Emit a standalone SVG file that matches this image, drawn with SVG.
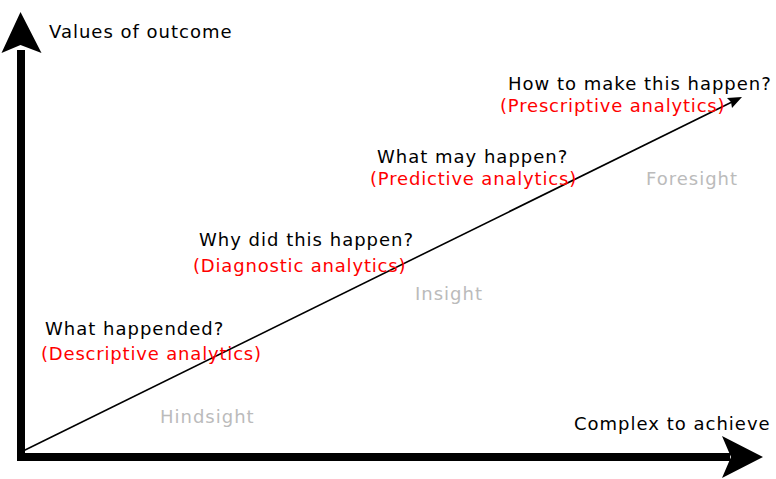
<svg xmlns="http://www.w3.org/2000/svg" width="776" height="479" viewBox="0 0 776 479">
<style>
text{font-family:"DejaVu Sans",sans-serif;font-size:18px;letter-spacing:1px}
.q{fill:#000}
.a{fill:#ff0000;letter-spacing:0.82px}
.s{fill:#bbbbbb}
.axis{stroke:#000;stroke-width:8;fill:none}
.diag{stroke:#000;stroke-width:1.6;fill:none}
</style>
<rect width="776" height="479" fill="#fff"/>
<g id="connectors">
<path class="axis" d="M21,50 V457 H730"/>
<path d="M20.5,12 L41.5,53 L20.5,45 L1.5,53 Z" fill="#000"/>
<path d="M763,457 L722,478 L731,457 L722,436 Z" fill="#000"/>
<line class="diag" x1="21" y1="452" x2="734" y2="101"/>
<path d="M742,97 L727,98 L731,102 L732,108 Z" fill="#000"/>
</g>
<g id="y-axis-label"><text class="q" x="49" y="38">Values of outcome</text></g>
<g id="x-axis-label"><text class="q" x="574" y="430">Complex to achieve</text></g>
<g id="prescriptive"><text class="q" x="508" y="90">How to make this happen?</text><text class="a" x="500" y="112">(Prescriptive analytics)</text></g>
<g id="predictive"><text class="q" x="377" y="163">What may happen?</text><text class="a" x="370" y="185">(Predictive analytics)</text></g>
<g id="diagnostic"><text class="q" x="199" y="246">Why did this happen?</text><text class="a" x="193" y="272">(Diagnostic analytics)</text></g>
<g id="descriptive"><text class="q" x="45" y="335">What happended?</text><text class="a" x="41" y="360">(Descriptive analytics)</text></g>
<g id="foresight"><text class="s" x="646" y="185">Foresight</text></g>
<g id="insight"><text class="s" x="415" y="300">Insight</text></g>
<g id="hindsight"><text class="s" x="160" y="423">Hindsight</text></g>
</svg>
